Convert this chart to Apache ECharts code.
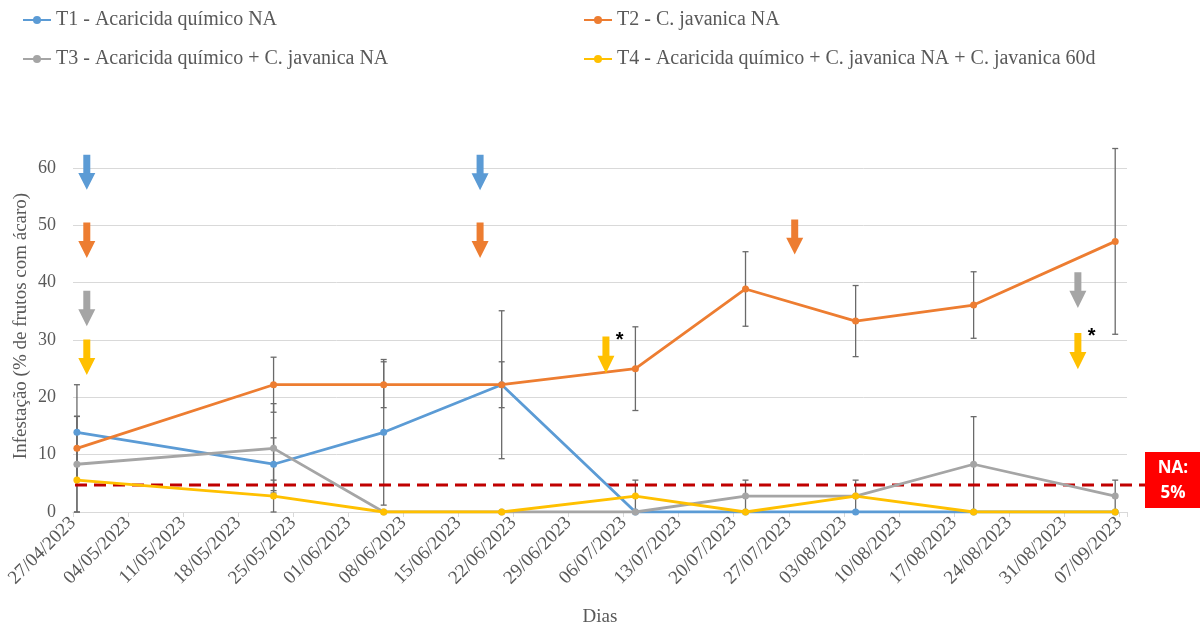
<!DOCTYPE html>
<html>
<head>
<meta charset="utf-8">
<script src="https://cdn.jsdelivr.net/npm/echarts@6/dist/echarts.min.js"></script>
<style>
html, body { margin: 0; padding: 0; background: #fff; }
#chart { width: 1200px; height: 628px; }
</style>
</head>
<body>
<div id="chart"></div>
<script>
// datas de avaliação
var startDate = '27/04/2023';
var axisDays = 134;
var sampleDates = ['27/04/2023', '22/05/2023', '05/06/2023', '20/06/2023', '07/07/2023', '21/07/2023', '04/08/2023', '19/08/2023', '06/09/2023'];

var names = ['T1 - Acaricida químico NA', 'T2 - C. javanica NA', 'T3 - Acaricida químico + C. javanica NA', 'T4 - Acaricida químico + C. javanica NA + C. javanica 60d'];
var colors = ['#5b9bd5', '#ed7d31', '#a5a5a5', '#ffc000'];

var t1 = [13.9, 8.33, 13.9, 22.2, 0, 0, 0, 0, 0];
var t2 = [11.1, 22.2, 22.2, 22.2, 25.0, 38.9, 33.3, 36.1, 47.2];
var t3 = [8.33, 11.1, 0, 0, 0, 2.78, 2.78, 8.33, 2.78];
var t4 = [5.56, 2.78, 0, 0, 2.78, 0, 2.78, 0, 0];

// erro padrão (barras)
var t1Err = [8.3, 4.6, 12.7, 12.9, null, null, null, null, null];
var t2Err = [5.6, 4.8, 4.0, 4.0, 7.3, 6.5, 6.2, 5.8, 16.2];
var t3Err = [8.33, 7.8, null, null, null, 2.78, null, 8.3, 2.78];
var t4Err = [5.56, 2.78, null, null, 2.78, null, 2.78, null, null];

// nível de ação
var naLevel = 4.7;
var naText = ['NA:', '5%'];

// setas de aplicação: [data, topo, ponta, tratamento]
var arrows = [
	['28/04/2023', 62.3, 56.2, 0],
	['28/04/2023', 50.5, 44.3, 1],
	['28/04/2023', 38.6, 32.4, 2],
	['28/04/2023', 30.1, 23.9, 3],
	['17/06/2023', 62.3, 56.1, 0],
	['17/06/2023', 50.5, 44.3, 1],
	['03/07/2023', 30.6, 24.2, 3],
	['27/07/2023', 51.0, 44.9, 1],
	['01/09/2023', 41.8, 35.6, 2],
	['01/09/2023', 31.2, 24.9, 3]
];
var stars = [['05/07/2023', 30.0], ['03/09/2023', 30.6]];

var serif = 'Liberation Serif';
var textGray = '#595959';
var DAY = 86400000;

function toUTC(s) {
	var p = s.split('/');
	return Date.UTC(+p[2], +p[1] - 1, +p[0]);
}
var t0 = toUTC(startDate);
// ponto no meio do dia (eixo de datas do Excel)
function dayPos(s) {
	return (toUTC(s) - t0) / DAY + 0.5;
}
function pad(n) { return n < 10 ? '0' + n : '' + n; }
function fmtDay(v) {
	if (v % 7 !== 0) return '';
	var d = new Date(t0 + v * DAY);
	return pad(d.getUTCDate()) + '/' + pad(d.getUTCMonth() + 1) + '/' + d.getUTCFullYear();
}

var sampleX = sampleDates.map(dayPos);
var values = [t1, t2, t3, t4];
var errs = [t1Err, t2Err, t3Err, t4Err];

var series = [];

// barras de erro
values.forEach(function (vals, k) {
	var data = [];
	vals.forEach(function (v, i) {
		if (errs[k][i] != null) data.push([sampleX[i], v, errs[k][i]]);
	});
	series.push({
		type: 'custom',
		name: 'err' + k,
		z: 1,
		silent: true,
		data: data,
		encode: { x: 0, y: 1 },
		renderItem: function (params, api) {
			var x = api.value(0), y = api.value(1), e = api.value(2);
			var hi = api.coord([x, y + e]);
			var lo = api.coord([x, y - e]);
			var st = { stroke: '#6a6a6a', lineWidth: 1.3 };
			return {
				type: 'group',
				children: [
					{ type: 'line', shape: { x1: hi[0], y1: hi[1], x2: lo[0], y2: lo[1] }, style: st },
					{ type: 'line', shape: { x1: hi[0] - 3, y1: hi[1], x2: hi[0] + 3, y2: hi[1] }, style: st },
					{ type: 'line', shape: { x1: lo[0] - 3, y1: lo[1], x2: lo[0] + 3, y2: lo[1] }, style: st }
				]
			};
		}
	});
});

// linha NA e caixa
series.push({
	type: 'custom',
	name: 'na',
	z: 2,
	silent: true,
	data: [[0, naLevel]],
	encode: { x: 0, y: 1 },
	renderItem: function (params, api) {
		var a = api.coord([0, naLevel]);
		var b = api.coord([axisDays, naLevel]);
		var bx = b[0] + 18;
		return {
			type: 'group',
			children: [
				{ type: 'line', shape: { x1: a[0] + 2, y1: a[1], x2: bx, y2: a[1] }, style: { stroke: '#c00000', lineWidth: 3, lineDash: [12, 7] } },
				{ type: 'rect', shape: { x: bx, y: a[1] - 33, width: 62, height: 56 }, style: { fill: '#ff0000' } },
				{ type: 'text', x: bx + 28, y: a[1] - 17, style: { text: naText[0], fill: '#fff', font: 'bold 17px "Open Sans"', align: 'center', verticalAlign: 'middle' } },
				{ type: 'text', x: bx + 28, y: a[1] + 8, style: { text: naText[1], fill: '#fff', font: 'bold 17px "Open Sans"', align: 'center', verticalAlign: 'middle' } }
			]
		};
	}
});

// séries
values.forEach(function (vals, k) {
	series.push({
		name: names[k],
		type: 'line',
		z: 3 + k,
		data: vals.map(function (v, i) { return [sampleX[i], v]; }),
		symbol: 'circle',
		symbolSize: 7,
		color: colors[k],
		lineStyle: { width: 2.8, color: colors[k] },
		itemStyle: { color: colors[k] }
	});
});

// setas
series.push({
	type: 'custom',
	name: 'setas',
	z: 10,
	silent: true,
	data: arrows.map(function (a) { return [dayPos(a[0]), a[1], a[2], a[3]]; }),
	encode: { x: 0, y: 1 },
	renderItem: function (params, api) {
		var top = api.coord([api.value(0), api.value(1)]);
		var tip = api.coord([api.value(0), api.value(2)]);
		var head = (tip[1] - top[1]) * 0.48;
		var x = top[0] + 2, sw = 3.5, hw = 8.5, hy = tip[1] - head;
		return {
			type: 'polygon',
			shape: { points: [[x - sw, top[1]], [x + sw, top[1]], [x + sw, hy], [x + hw, hy], [x, tip[1]], [x - hw, hy], [x - sw, hy]] },
			style: { fill: colors[api.value(3)] }
		};
	}
});

series.push({
	type: 'custom',
	name: 'asteriscos',
	z: 10,
	silent: true,
	data: stars.map(function (s) { return [dayPos(s[0]), s[1]]; }),
	encode: { x: 0, y: 1 },
	renderItem: function (params, api) {
		var p = api.coord([api.value(0), api.value(1)]);
		return { type: 'text', x: p[0], y: p[1], style: { text: '*', fill: '#000', font: 'bold 20px "Liberation Sans"', align: 'center', verticalAlign: 'middle' } };
	}
});

var legendText = { fontFamily: serif, fontSize: 20, color: textGray };

var chart = echarts.init(document.getElementById('chart'));
chart.setOption({
	animation: false,
	backgroundColor: '#fff',
	legend: [
		{ left: 22, top: 10, padding: 0, orient: 'vertical', itemGap: 19, itemWidth: 28, itemHeight: 10, data: [names[0], names[2]], textStyle: legendText },
		{ left: 583, top: 10, padding: 0, orient: 'vertical', itemGap: 19, itemWidth: 28, itemHeight: 10, data: [names[1], names[3]], textStyle: legendText }
	],
	grid: { left: 73, right: 73, top: 168, bottom: 116, outerBoundsMode: 'none' },
	xAxis: {
		type: 'value',
		min: 0,
		max: axisDays,
		interval: 7,
		name: 'Dias',
		nameLocation: 'middle',
		nameGap: 96,
		nameTextStyle: { fontFamily: serif, fontSize: 19, color: textGray },
		axisLine: { lineStyle: { color: '#d9d9d9', width: 1 } },
		axisTick: { show: true, length: 5, lineStyle: { color: '#d9d9d9' } },
		axisLabel: { rotate: 45, margin: 8, fontFamily: serif, fontSize: 19, color: textGray, formatter: fmtDay },
		splitLine: { show: false }
	},
	yAxis: {
		type: 'value',
		min: 0,
		max: 60,
		interval: 10,
		name: 'Infestação (% de frutos com ácaro)',
		nameLocation: 'middle',
		nameGap: 42,
		nameMoveOverlap: false,
		nameTextStyle: { fontFamily: serif, fontSize: 19, color: textGray, padding: [0, 0, 0, 28] },
		axisLine: { show: false },
		axisTick: { show: false },
		axisLabel: { margin: 17, fontFamily: serif, fontSize: 18, color: textGray },
		splitLine: { lineStyle: { color: '#d9d9d9', width: 1 } }
	},
	series: series
});
</script>
</body>
</html>
